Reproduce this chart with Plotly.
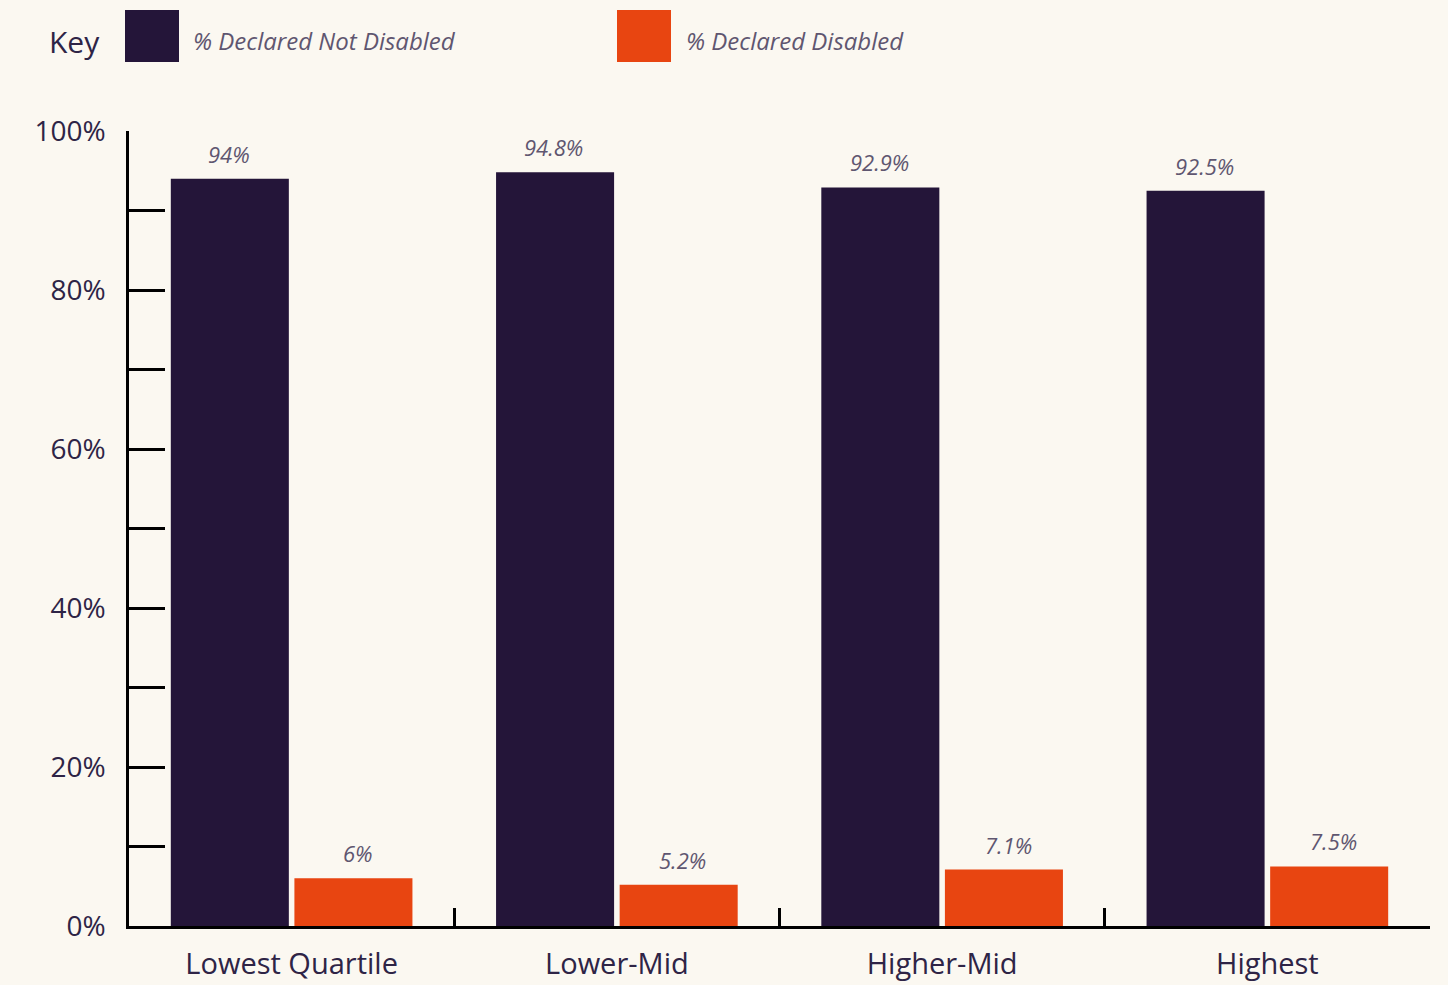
import plotly.graph_objects as go

categories = ["Lowest Quartile", "Lower-Mid", "Higher-Mid", "Highest"]
not_disabled = [94, 94.8, 92.9, 92.5]
disabled = [6, 5.2, 7.1, 7.5]
series_names = ["% Declared Not Disabled", "% Declared Disabled"]
y_tickvals = [0, 10, 20, 30, 40, 50, 60, 70, 80, 90, 100]
y_ticktext = ["0%", "", "20%", "", "40%", "", "60%", "", "80%", "", "100%"]

BG = "#FBF8F1"
DARK = "#241539"
ORANGE = "#E84511"
TEXT = "#2E2446"
LABEL = "#5F5670"
FONT = "Open Sans"

W, H = 1448, 985
L, R, T, B = 129, 18, 131, 59
pw, ph = W - L - R, H - T - B

def px(x):
    return (x - L) / pw

def py(y):
    return (H - B - y) / ph

fig = go.Figure()
fig.add_trace(go.Bar(x=categories, y=not_disabled, name=series_names[0],
                     marker=dict(color=DARK, line=dict(width=0)), showlegend=False))
fig.add_trace(go.Bar(x=categories, y=disabled, name=series_names[1],
                     marker=dict(color=ORANGE, line=dict(width=0)), showlegend=False))

for vals, shift in ((not_disabled, -63), (disabled, 66)):
    for c, v in zip(categories, vals):
        fig.add_annotation(x=c, y=v, xref="x", yref="y", text=f"{v:g}%",
                           showarrow=False, xshift=shift, yshift=25,
                           font=dict(family=FONT, size=22, color=LABEL, style="italic"))

# Key
fig.add_annotation(x=px(47), y=py(41), xref="paper", yref="paper", text="Key",
                   showarrow=False, xanchor="left", yanchor="middle",
                   font=dict(family=FONT, size=30, color=TEXT))
for (x0, x1, col, name, tx) in ((125, 179, DARK, series_names[0], 191),
                                (617, 671, ORANGE, series_names[1], 684)):
    fig.add_shape(type="rect", xref="paper", yref="paper",
                  x0=px(x0), x1=px(x1), y0=py(62), y1=py(10),
                  fillcolor=col, line=dict(width=0))
    fig.add_annotation(x=px(tx), y=py(40), xref="paper", yref="paper", text=name,
                       showarrow=False, xanchor="left", yanchor="middle",
                       font=dict(family=FONT, size=24, color=LABEL, style="italic"))

fig.update_layout(
    width=W, height=H,
    margin=dict(l=L, r=R, t=T, b=B, pad=0, autoexpand=False),
    paper_bgcolor=BG, plot_bgcolor=BG,
    barmode="group", bargap=0.24, bargroupgap=0.045,
    font=dict(family=FONT, color=TEXT),
)
fig.update_xaxes(showline=True, linecolor="#000000", linewidth=2.5,
                 ticks="inside", tickson="boundaries", ticklen=18, tickwidth=2.5,
                 tickcolor="#000000", showgrid=False, zeroline=False,
                 tickfont=dict(family=FONT, size=29, color=TEXT),
                 ticklabelstandoff=10, automargin=False)
fig.update_yaxes(range=[0, 100], showline=True, linecolor="#000000", linewidth=2.5,
                 ticks="inside", ticklen=36, tickwidth=2.5, tickcolor="#000000",
                 tickvals=y_tickvals, ticktext=y_ticktext,
                 showgrid=False, zeroline=False,
                 tickfont=dict(family=FONT, size=28, color=TEXT),
                 ticklabelstandoff=15, automargin=False)

fig.write_html("out.html", config={"displayModeBar": False},
               post_script="document.body.style.margin='0';document.body.style.background='" + BG + "';")
